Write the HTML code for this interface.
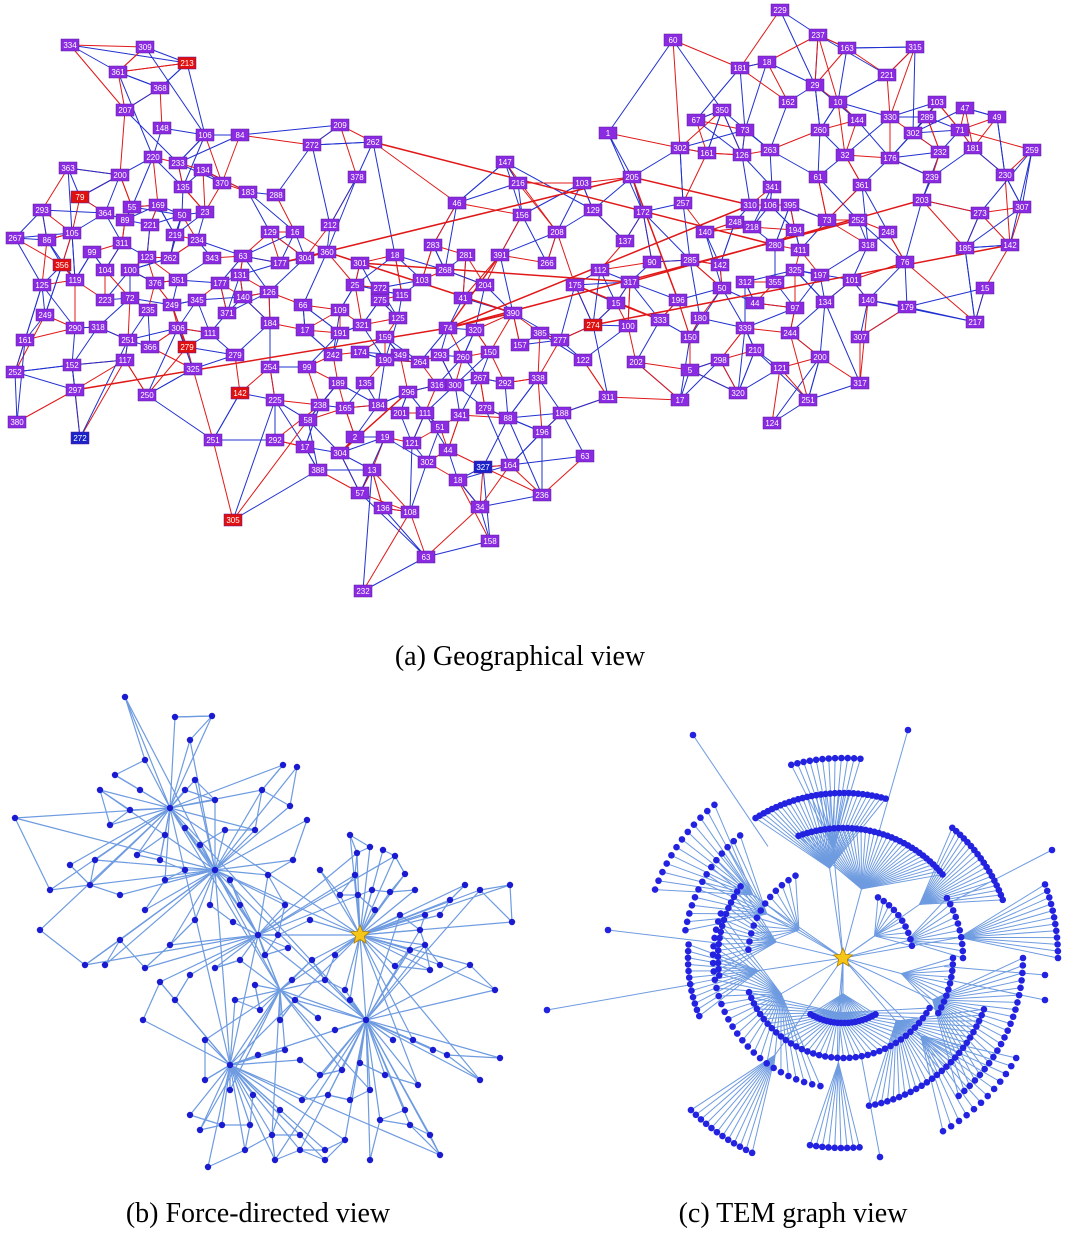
<!DOCTYPE html>
<html><head><meta charset="utf-8">
<style>
html,body{margin:0;padding:0;background:#fff;}
#wrap{position:relative;width:1066px;height:1242px;overflow:hidden;background:#fff;}
svg{position:absolute;left:0;top:0;}
.cap{position:absolute;font-family:"Liberation Serif",serif;font-size:28px;color:#000;white-space:nowrap;transform:translateX(-50%);}
</style></head>
<body>
<div id="wrap">
<svg id="svg" width="1066" height="1242">
<g id="ga"></g>
<g id="gb"></g>
<g id="gc"></g>
</svg>
<div class="cap" style="left:520px;top:641px">(a) Geographical view</div>
<div class="cap" style="left:258px;top:1198px">(b) Force-directed view</div>
<div class="cap" style="left:793px;top:1198px">(c) TEM graph view</div>
</div>
<script>
const NS="http://www.w3.org/2000/svg";
const nodesA=[[70,45,"334"],[145,47,"309"],[187,63,"213","r"],[118,72,"361"],[160,88,"368"],[125,110,"207"],[162,128,"148"],[205,135,"106"],[240,135,"84"],[153,157,"220"],[178,163,"233"],[203,170,"134"],[68,168,"363"],[120,175,"200"],[80,197,"79","r"],[183,187,"135"],[222,183,"370"],[248,192,"183"],[276,195,"288"],[312,145,"272"],[340,125,"209"],[373,142,"262"],[357,177,"378"],[42,210,"293"],[105,213,"364"],[132,207,"55"],[158,205,"169"],[182,215,"50"],[205,212,"23"],[72,233,"105"],[125,220,"89"],[150,225,"221"],[175,235,"219"],[197,240,"234"],[15,238,"267"],[47,240,"86"],[92,252,"99"],[122,243,"311"],[147,257,"123"],[170,258,"262"],[212,258,"343"],[243,256,"63"],[270,232,"129"],[295,232,"16"],[330,225,"212"],[327,252,"360"],[280,263,"177"],[305,258,"304"],[360,263,"301"],[395,255,"18"],[433,245,"283"],[445,270,"268"],[466,255,"281"],[500,255,"391"],[547,263,"266"],[600,270,"112"],[575,285,"175"],[630,282,"317"],[616,303,"15"],[62,265,"356","r"],[105,270,"104"],[130,270,"100"],[155,283,"376"],[178,280,"351"],[220,283,"177"],[240,275,"131"],[42,285,"125"],[75,280,"119"],[105,300,"223"],[130,298,"72"],[148,310,"235"],[172,305,"249"],[197,300,"345"],[243,297,"140"],[227,313,"371"],[269,292,"126"],[303,305,"66"],[340,310,"109"],[380,300,"275"],[355,285,"25"],[380,288,"272"],[402,295,"115"],[422,280,"103"],[463,298,"41"],[485,285,"204"],[513,313,"390"],[45,315,"249"],[75,328,"290"],[98,327,"318"],[128,340,"251"],[150,347,"366"],[178,328,"306"],[210,333,"111"],[187,347,"279","r"],[235,355,"279"],[270,323,"184"],[305,330,"17"],[340,333,"191"],[362,325,"321"],[398,318,"125"],[448,328,"74"],[475,330,"320"],[540,333,"385"],[560,340,"277"],[593,325,"274","r"],[628,326,"100"],[25,340,"161"],[72,365,"152"],[125,360,"117"],[193,369,"325"],[270,367,"254"],[307,367,"99"],[360,352,"174"],[385,337,"159"],[333,355,"242"],[400,355,"349"],[420,362,"264"],[440,355,"293"],[463,357,"260"],[490,352,"150"],[520,345,"157"],[15,372,"252"],[75,390,"297"],[147,395,"250"],[240,393,"142","r"],[275,400,"225"],[320,405,"238"],[338,383,"189"],[365,383,"135"],[385,360,"190"],[408,392,"296"],[437,385,"316"],[455,385,"300"],[480,378,"267"],[505,383,"292"],[538,378,"338"],[583,360,"122"],[636,362,"202"],[17,422,"380"],[80,438,"272","b"],[213,440,"251"],[275,440,"292"],[305,447,"17"],[308,420,"58"],[345,408,"165"],[378,405,"184"],[400,413,"201"],[425,413,"111"],[440,427,"51"],[460,415,"341"],[485,408,"279"],[508,418,"88"],[412,443,"121"],[385,437,"19"],[355,437,"2"],[340,453,"304"],[318,470,"388"],[372,470,"13"],[427,462,"302"],[448,450,"44"],[483,467,"327","b"],[510,465,"164"],[458,480,"18"],[542,432,"196"],[562,413,"188"],[608,397,"311"],[585,456,"63"],[360,493,"57"],[383,508,"136"],[410,512,"108"],[480,507,"34"],[542,495,"236"],[490,541,"158"],[426,557,"63"],[363,591,"232"],[233,520,"305","r"],[608,133,"1"],[505,162,"147"],[518,183,"216"],[582,183,"103"],[632,177,"205"],[457,203,"46"],[522,215,"156"],[557,232,"208"],[593,210,"129"],[643,212,"172"],[625,241,"137"],[683,203,"257"],[652,262,"90"],[690,260,"285"],[720,265,"142"],[705,232,"140"],[735,222,"248"],[752,227,"218"],[770,205,"106"],[750,205,"310"],[772,187,"341"],[790,205,"395"],[795,230,"194"],[775,245,"280"],[800,250,"411"],[795,270,"325"],[820,275,"197"],[745,282,"312"],[775,282,"355"],[722,288,"50"],[755,303,"44"],[795,308,"97"],[825,302,"134"],[852,280,"101"],[868,300,"140"],[868,245,"318"],[888,232,"248"],[905,262,"76"],[858,220,"252"],[827,220,"73"],[678,300,"196"],[660,320,"333"],[700,318,"180"],[690,337,"150"],[745,328,"339"],[720,360,"298"],[755,350,"210"],[790,333,"244"],[780,368,"121"],[820,357,"200"],[860,337,"307"],[860,383,"317"],[907,307,"179"],[975,322,"217"],[985,288,"15"],[965,248,"185"],[980,213,"273"],[1010,245,"142"],[1022,207,"307"],[922,200,"203"],[932,177,"239"],[940,152,"232"],[1005,175,"230"],[1032,150,"259"],[973,148,"181"],[960,130,"71"],[997,117,"49"],[965,108,"47"],[937,102,"103"],[927,117,"289"],[913,133,"302"],[890,117,"330"],[857,120,"144"],[838,102,"10"],[887,75,"221"],[915,47,"315"],[847,48,"163"],[818,35,"237"],[780,10,"229"],[815,85,"29"],[788,102,"162"],[767,62,"18"],[740,68,"181"],[722,110,"350"],[696,120,"67"],[745,130,"73"],[707,153,"161"],[680,148,"302"],[742,155,"126"],[770,150,"263"],[820,130,"260"],[845,155,"32"],[818,177,"61"],[862,185,"361"],[890,158,"176"],[673,40,"60"],[680,400,"17"],[738,393,"320"],[772,423,"124"],[808,400,"251"],[690,370,"5"]];
const longA=[[180,216],[180,195],[53,100],[100,195],[56,217],[48,57],[85,100],[46,180],[100,214],[57,235],[130,155],[104,233],[21,199],[45,85],[122,100]];
const nodesB=[[125,697],[175,717],[212,716],[190,740],[145,760],[115,775],[100,790],[140,790],[185,790],[215,800],[170,808],[130,810],[15,818],[110,825],[165,835],[185,828],[200,845],[225,830],[255,830],[283,765],[297,767],[262,790],[307,820],[290,806],[195,780],[160,860],[137,855],[95,860],[70,865],[50,890],[90,885],[120,895],[145,910],[165,880],[185,870],[215,870],[230,880],[210,905],[240,905],[268,875],[293,860],[320,870],[285,905],[310,920],[278,935],[258,935],[233,922],[195,920],[170,945],[120,940],[105,965],[85,965],[40,930],[145,968],[160,982],[190,975],[215,968],[240,960],[265,955],[288,948],[312,960],[335,955],[350,835],[357,853],[370,847],[383,850],[395,856],[405,874],[415,890],[355,875],[340,895],[358,895],[372,890],[390,892],[375,910],[400,915],[425,915],[440,915],[420,930],[450,900],[465,885],[480,890],[510,885],[512,922],[425,945],[440,965],[430,970],[410,950],[395,966],[325,980],[345,990],[292,980],[255,985],[235,1000],[260,1010],[280,1020],[295,1000],[318,1018],[335,1030],[350,1000],[366,1020],[393,1040],[413,1040],[433,1050],[447,1055],[480,1080],[500,1058],[495,990],[470,965],[143,1020],[175,1000],[205,1040],[230,1065],[258,1055],[285,1050],[300,1060],[320,1075],[342,1070],[360,1063],[385,1075],[370,1090],[350,1100],[328,1095],[302,1100],[280,1110],[253,1095],[230,1090],[205,1080],[190,1115],[200,1130],[222,1125],[250,1125],[272,1135],[300,1135],[325,1150],[345,1140],[380,1120],[405,1110],[418,1085],[410,1125],[430,1135],[440,1155],[370,1160],[325,1160],[275,1160],[245,1150],[208,1167],[300,1150]];
const hubsB=[[360,935],[258,935],[366,1020],[230,1065],[280,990],[215,870],[170,808]];
const starB=[360,935];
const arcsC=[[65,60,120,20],[100,30,160,38],[130,100,200,28],[150,20,80,26],[180,0,50,22],[200,30,60,12],[160,190,230,14],[125,172,215,16],[155,158,185,12],[200,200,230,12],[130,250,320,36],[165,238,285,30],[170,310,340,18],[200,255,275,12],[215,115,135,12],[190,85,100,9],[215,340,360,12],[95,185,240,12],[70,300,350,10],[120,330,360,10],[110,0,30,10]];
const outerC=[[547,1010],[1052,850],[608,930],[908,730],[693,735],[880,1157],[1045,975],[1045,1000]];
const centerC=[843,958];

function el(tag,attrs,parent){const e=document.createElementNS(NS,tag);for(const k in attrs)e.setAttribute(k,attrs[k]);parent.appendChild(e);return e;}
function d2(a,b){return (a[0]-b[0])**2+(a[1]-b[1])**2;}

const ga=document.getElementById('ga');
const eg=el('g',{},ga);


nodesA.forEach((n,i)=>{
  const ds=nodesA.map((m,j)=>[d2(n,m),j]).filter(x=>x[1]!==i).sort((a,b)=>a[0]-b[0]);
  const k=3+(i%2);
  for(let t=0;t<k;t++){const m=nodesA[ds[t*2][1]];
    const ln=el('line',{x1:n[0],y1:n[1],x2:m[0],y2:m[1],stroke:(i+t)%2?'#e01818':'#2030d0','stroke-width':1},eg);
    
    
  }
});
longA.forEach(p=>{const a=nodesA[p[0]],b=nodesA[p[1]];if(!a||!b)return;
  const ln=el('line',{x1:a[0],y1:a[1],x2:b[0],y2:b[1],stroke:'#e01818','stroke-width':1.5},eg);
  
  
});
nodesA.forEach(n=>{
  const col=n[3]==='r'?'#e01010':n[3]==='b'?'#1a22c8':'#8a2be2';
  const g=el('g',{},ga);
  
  
  el('rect',{x:n[0]-9,y:n[1]-6,width:18,height:12,fill:col,stroke:'#5a1a9a','stroke-width':0.5},g);
  const t=el('text',{x:n[0],y:n[1]+3,'font-size':8,'font-family':'Liberation Sans, sans-serif',fill:'#fff','text-anchor':'middle'},g);
  t.textContent=n[2];
});

const gb=document.getElementById('gb');
const bEdges=el('g',{},gb);


function lineB(a,b){const l=el('line',{x1:a[0],y1:a[1],x2:b[0],y2:b[1],stroke:'#6e9be0','stroke-width':1.2},bEdges);
  
  }
nodesB.forEach((n,i)=>{
  const hs=hubsB.map((h,j)=>[d2(n,h),j]).sort((a,b)=>a[0]-b[0]);
  lineB(n,hubsB[hs[0][1]]);
  if(i%3===0)lineB(n,hubsB[hs[1][1]]);
  const ds=nodesB.map((m,j)=>[d2(n,m),j]).filter(x=>x[1]!==i).sort((a,b)=>a[0]-b[0]);
  lineB(n,nodesB[ds[1][1]]);
});
hubsB.forEach((h,i)=>hubsB.forEach((k,j)=>{if(j>i)lineB(h,k);}));
nodesB.forEach(n=>{const c=el('circle',{cx:n[0],cy:n[1],r:3.2,fill:'#1a1ad0'},gb);
  
  });
function star(g,cx,cy,R){let p=[];for(let i=0;i<10;i++){const r=i%2?R*0.45:R;const a=-Math.PI/2+i*Math.PI/5;p.push((cx+r*Math.cos(a)).toFixed(1)+','+(cy+r*Math.sin(a)).toFixed(1));}
  return el('polygon',{points:p.join(' '),fill:'#f5c518',stroke:'#b08000','stroke-width':0.8},g);}
const sb=star(gb,starB[0],starB[1],10);



const gc=document.getElementById('gc');
const cE=el('g',{},gc);


const cN=el('g',{},gc);


function lineC(a,b){const l=el('line',{x1:a[0],y1:a[1],x2:b[0],y2:b[1],stroke:'#6e9be0','stroke-width':1},cE);
  
  }
function dotC(p){const c=el('circle',{cx:p[0],cy:p[1],r:3.3,fill:'#2222e0'},cN);
  
  }
function pol(r,a){const t=a*Math.PI/180;return [centerC[0]+r*Math.cos(t),centerC[1]+r*Math.sin(t)];}
arcsC.forEach(a=>{
  const mid=(a[1]+a[2])/2;const hub=pol(a[0]*0.55,mid);
  lineC(centerC,hub);
  for(let i=0;i<a[3];i++){const ang=a[1]+(a[2]-a[1])*i/(a[3]-1);const p=pol(a[0],ang);
    lineC(hub,p);dotC(p);}
});
outerC.forEach(p=>{const dx=p[0]-centerC[0],dy=p[1]-centerC[1];
  const q=[centerC[0]+dx*0.5,centerC[1]+dy*0.5];lineC(q,p);dotC(p);});
const sc=star(gc,centerC[0],centerC[1],10);


</script>
</body></html>
